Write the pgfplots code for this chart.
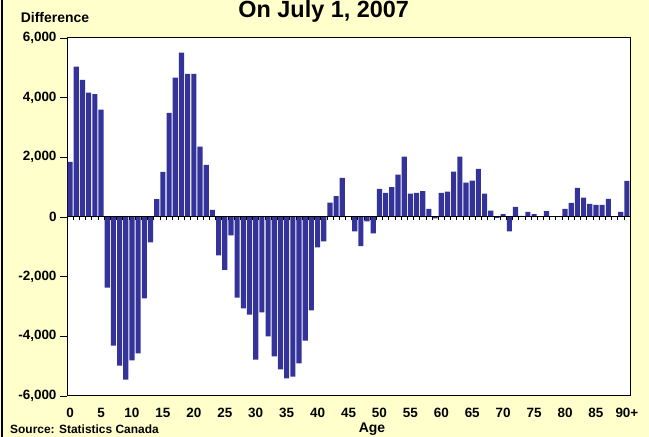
\documentclass[border=0pt]{standalone}
\usepackage{pgfplots}
\pgfplotsset{compat=1.18}
\usepackage{fontspec}
\setmainfont{Liberation Sans}
\definecolor{bgyellow}{RGB}{255,255,204}
\definecolor{barblue}{RGB}{51,51,153}
\begin{document}
\begin{tikzpicture}[x=1bp,y=1bp]
\useasboundingbox (0,0) rectangle (649,437);
\clip (0,0) rectangle (649,437);
\fill[bgyellow] (0,0) rectangle (649,437);
\draw[black, line width=1.5bp] (2,-5) -- (2,445);
\begin{axis}[
  at={(67bp,41bp)}, anchor=south west,
  scale only axis, width=563bp, height=358bp,
  xmin=-0.5, xmax=90.5, ymin=-6000, ymax=6000,
  axis background/.style={fill=white},
  ybar, bar width=0.83,
  xtick={0,5,...,90},
  xticklabels={0,5,10,15,20,25,30,35,40,45,50,55,60,65,70,75,80,85,90+},
  x tick style={draw=none},
  ytick={-6000,-4000,-2000,0,2000,4000,6000},
  yticklabels={{-6,000},{-4,000},{-2,000},{0},{2,000},{4,000},{6,000}},
  ytick pos=left, tick align=outside, major tick length=7bp,
  y tick style={black, line width=0.8bp},
  ticklabel style={font=\bfseries\fontsize{13.5}{16}\selectfont},
  /pgf/number format/assume math mode=true,
  axis line style={black, line width=1bp},
  xticklabel style={yshift=-2bp},
]
\addplot[fill=barblue, draw=none] coordinates {
(0,1850) (1,5040) (2,4600) (3,4170) (4,4120) (5,3600) (6,-2370) (7,-4310) (8,-4980) (9,-5450)
(10,-4810) (11,-4570) (12,-2730) (13,-850) (14,600) (15,1510) (16,3490) (17,4670) (18,5510) (19,4800)
(20,4800) (21,2360) (22,1750) (23,240) (24,-1290) (25,-1770) (26,-620) (27,-2700) (28,-3060) (29,-3270)
(30,-4780) (31,-3200) (32,-4000) (33,-4670) (34,-5110) (35,-5410) (36,-5350) (37,-4910) (38,-4140) (39,-3130)
(40,-1020) (41,-820) (42,480) (43,700) (44,1310) (45,0) (46,-480) (47,-980) (48,-150) (49,-550)
(50,940) (51,810) (52,1000) (53,1420) (54,2020) (55,780) (56,810) (57,870) (58,270) (59,-50)
(60,810) (61,850) (62,1520) (63,2020) (64,1150) (65,1220) (66,1610) (67,780) (68,210) (69,-30)
(70,100) (71,-480) (72,340) (73,40) (74,170) (75,100) (76,0) (77,200) (78,0) (79,0)
(80,270) (81,470) (82,980) (83,650) (84,440) (85,410) (86,410) (87,610) (88,0) (89,170)
(90,1210)
};
\end{axis}
\begin{axis}[
  at={(67bp,41bp)}, anchor=south west,
  scale only axis, width=563bp, height=358bp,
  xmin=-0.5, xmax=90.5, ymin=-6000, ymax=6000,
  axis x line=middle, axis y line=none,
  axis line style={-, black, line width=1bp},
  xtick={-0.5,0.5,...,90.5}, xticklabels={},
  ytick=\empty,
  xtick align=outside, major tick length=3.5bp,
  x tick style={black, line width=0.6bp},
]
\end{axis}
\node[anchor=base, font=\bfseries\fontsize{23.5}{28}\selectfont] at (323.7,419.3) {On July 1, 2007};
\node[anchor=base west, font=\bfseries\fontsize{14}{16}\selectfont, inner sep=0] at (20.7,414.3) {Difference};
\node[anchor=base, font=\bfseries\fontsize{14}{16}\selectfont] at (372,4) {Age};
\node[anchor=base west, font=\bfseries\fontsize{12}{14}\selectfont, inner sep=0] at (10,3) {Source: Statistics Canada};
\end{tikzpicture}
\end{document}
